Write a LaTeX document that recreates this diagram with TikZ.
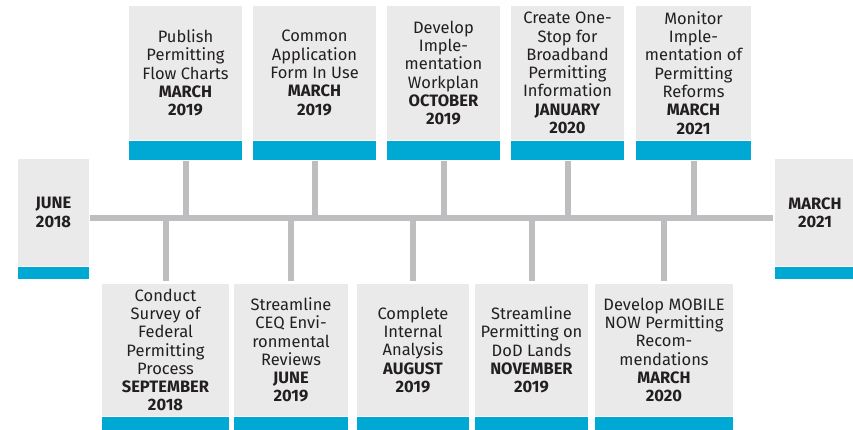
\documentclass[tikz,border=0pt]{standalone}
\usepackage{fontspec}
\setmainfont{Fira Sans}
\usetikzlibrary{positioning}

\definecolor{cardgrey}{HTML}{EAEAEA}
\definecolor{barblue}{HTML}{00A8D4}
\definecolor{linegrey}{HTML}{BEBEC0}
\definecolor{inkdark}{HTML}{231F20}

\begin{document}
\begin{tikzpicture}[x=1pt, y=-1pt,
  card/.style={fill=cardgrey, minimum width=#1, inner sep=0pt, align=center,
    text=inkdark, font=\fontsize{16.5}{18.3}\selectfont},
  bar/.style={fill=barblue, minimum width=#1, minimum height=19pt, inner sep=0pt},
  stem/.style={linegrey, line width=6pt}]

\useasboundingbox (0,0) rectangle (853,430);

\def\toph{134pt}
\def\both{132pt}

\coordinate (axis) at (0,218);

% ends of the timeline
\node[card=71pt, minimum height=107pt] (june18) at (53.5,212.5) {\textbf{JUNE}\\\textbf{2018}};
\node[bar=71pt, minimum height=12pt, below=1pt of june18] (june18-bar) {};
\node[card=80pt, minimum height=107pt] (march21) at (815,212.5) {\textbf{MARCH}\\\textbf{2021}};
\node[bar=80pt, minimum height=12pt, below=1pt of march21] (march21-bar) {};

\draw[linegrey, line width=6pt] ([xshift=1pt]june18.east |- axis) -- ([xshift=-2pt]march21.west |- axis);

% above the line
\node[card=113pt, minimum height=\toph] (flowcharts) at (185.5,73) {Publish\\Permitting\\Flow Charts\\\textbf{MARCH}\\\textbf{2019}};
\node[bar=113pt, below=1pt of flowcharts] (flowcharts-bar) {};
\node[card=123pt, minimum height=\toph] (appform) at (314.5,73) {Common\\Application\\Form In Use\\\textbf{MARCH}\\\textbf{2019}};
\node[bar=123pt, below=1pt of appform] (appform-bar) {};
\node[card=113pt, minimum height=\toph] (workplan) at (443.5,73) {Develop\\Imple-\\mentation\\Workplan\\\textbf{OCTOBER}\\\textbf{2019}};
\node[bar=113pt, below=1pt of workplan] (workplan-bar) {};
\node[card=113pt, minimum height=\toph] (onestop) at (567.5,73) {Create One-\\Stop for\\Broadband\\Permitting\\Information\\\textbf{JANUARY}\\\textbf{2020}};
\node[bar=113pt, below=1pt of onestop] (onestop-bar) {};
\node[card=115pt, minimum height=\toph] (monitor) at (693.5,73) {Monitor\\Imple-\\mentation of\\Permitting\\Reforms\\\textbf{MARCH}\\\textbf{2021}};
\node[bar=115pt, below=1pt of monitor] (monitor-bar) {};

\draw[stem] (flowcharts-bar) -- (flowcharts-bar |- axis);
\draw[stem] (appform-bar) -- (appform-bar |- axis);
\draw[stem] (workplan-bar) -- (workplan-bar |- axis);
\draw[stem] (onestop-bar) -- (onestop-bar |- axis);
\draw[stem] (monitor-bar) -- (monitor-bar |- axis);

% below the line
\node[card=127pt, minimum height=\both] (survey) at (165.5,350) {Conduct\\Survey of\\Federal\\Permitting\\Process\\\textbf{SEPTEMBER}\\\textbf{2018}};
\node[bar=127pt, below=1pt of survey] (survey-bar) {};
\node[card=114pt, minimum height=\both] (ceq) at (291,350) {Streamline\\CEQ Envi-\\ronmental\\Reviews\\\textbf{JUNE}\\\textbf{2019}};
\node[bar=114pt, below=1pt of ceq] (ceq-bar) {};
\node[card=112pt, minimum height=\both] (internal) at (413,350) {Complete\\Internal\\Analysis\\\textbf{AUGUST}\\\textbf{2019}};
\node[bar=112pt, below=1pt of internal] (internal-bar) {};
\node[card=113pt, minimum height=\both] (dod) at (531.5,350) {Streamline\\Permitting on\\DoD Lands\\\textbf{NOVEMBER}\\\textbf{2019}};
\node[bar=113pt, below=1pt of dod] (dod-bar) {};
\node[card=138pt, minimum height=\both] (mobilenow) at (664,350) {Develop MOBILE\\NOW Permitting\\Recom-\\mendations\\\textbf{MARCH}\\\textbf{2020}};
\node[bar=138pt, below=1pt of mobilenow] (mobilenow-bar) {};

\draw[stem, shorten >=3pt] (survey |- axis) -- (survey);
\draw[stem, shorten >=3pt] (ceq |- axis) -- (ceq);
\draw[stem, shorten >=3pt] (internal |- axis) -- (internal);
\draw[stem, shorten >=3pt] (dod |- axis) -- (dod);
\draw[stem, shorten >=3pt] (mobilenow |- axis) -- (mobilenow);

\end{tikzpicture}
\end{document}
